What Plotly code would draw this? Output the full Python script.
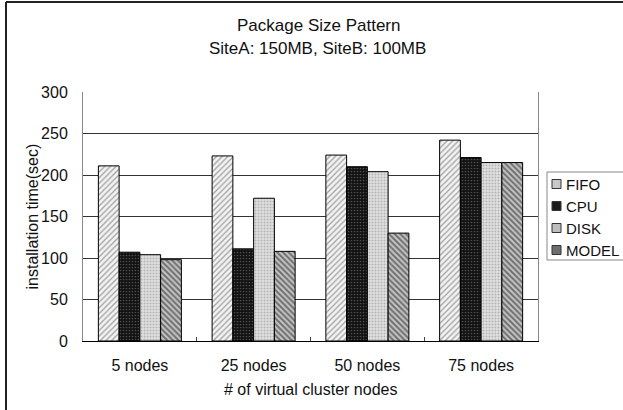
import plotly.graph_objects as go

categories = ["5 nodes", "25 nodes", "50 nodes", "75 nodes"]
fifo = [211, 223, 224, 242]
cpu = [107, 111, 210, 221]
disk = [104, 172, 204, 215]
model = [98, 108, 130, 215]
series_names = ["FIFO", "CPU", "DISK", "MODEL"]

patterns = [
    dict(shape="/", bgcolor="#f4f4f4", fgcolor="#555", size=4, solidity=0.35),
    dict(shape=".", bgcolor="#111", fgcolor="#888", size=3, solidity=0.25),
    dict(shape=".", bgcolor="#e0e0e0", fgcolor="#888", size=3, solidity=0.35),
    dict(shape="\\", bgcolor="#c4c4c4", fgcolor="#1a1a1a", size=4, solidity=0.5),
]
legend_swatch = ["#c8c8c8", "#1a1a1a", "#bdbdbd", "#6e6e6e"]

FONT = "Liberation Sans, Arial, sans-serif"

fig = go.Figure()
for name, vals, pat in zip(series_names, [fifo, cpu, disk, model], patterns):
    fig.add_trace(go.Bar(
        x=categories, y=vals, name=name,
        marker=dict(color=pat["bgcolor"], pattern=pat, line=dict(color="#000", width=1)),
    ))

W, H = 623, 410
L, R, T, B = 83, 85, 92, 69
pw, ph = W - L - R, H - T - B

def px(x):
    return (x - L) / pw

def py(y):
    return (H - B - y) / ph

annotations = [
    dict(text="Package Size Pattern", x=px(318), y=py(25), xref="paper", yref="paper",
         showarrow=False, font=dict(size=17), xanchor="center", yanchor="middle"),
    dict(text="SiteA: 150MB, SiteB: 100MB", x=px(317), y=py(48), xref="paper", yref="paper",
         showarrow=False, font=dict(size=17), xanchor="center", yanchor="middle"),
    dict(text="installation time(sec)", x=px(32), y=0.5, xref="paper", yref="paper",
         showarrow=False, textangle=-90, font=dict(size=16), xanchor="center", yanchor="middle"),
    dict(text="# of virtual cluster nodes", x=0.5, y=py(389), xref="paper", yref="paper",
         showarrow=False, font=dict(size=16), xanchor="center", yanchor="middle"),
]
shapes = [
    dict(type="line", xref="paper", yref="paper", x0=px(6), x1=px(6), y0=py(2), y1=py(420),
         line=dict(color="#222", width=2)),
    dict(type="line", xref="paper", yref="paper", x0=px(6), x1=px(630), y0=py(2), y1=py(2),
         line=dict(color="#222", width=2)),
    # legend box
    dict(type="rect", xref="paper", yref="paper", x0=px(547), x1=px(640), y0=py(172), y1=py(260),
         line=dict(color="#888", width=1), fillcolor="white", layer="above"),
]
legend_y = [184, 206, 228, 250]
for name, col, yc in zip(series_names, legend_swatch, legend_y):
    shapes.append(dict(type="rect", xref="paper", yref="paper",
                       x0=px(552), x1=px(561), y0=py(yc - 4.5), y1=py(yc + 4.5),
                       line=dict(color="#333", width=1), fillcolor=col, layer="above"))
    annotations.append(dict(text=name, x=px(564), y=py(yc), xref="paper", yref="paper",
                            showarrow=False, font=dict(size=15), xanchor="left", yanchor="middle"))

fig.update_layout(
    width=W, height=H,
    margin=dict(l=L, r=R, t=T, b=B, autoexpand=False),
    paper_bgcolor="white", plot_bgcolor="white",
    barmode="group", bargap=0.27, bargroupgap=0,
    font=dict(family=FONT, size=16, color="#111"),
    showlegend=False,
    xaxis=dict(
        showline=True, linecolor="#000", linewidth=1, mirror=False,
        ticks="inside", tickson="boundaries", ticklen=4, tickcolor="#444",
        tickfont=dict(size=16), ticklabelstandoff=10,
    ),
    yaxis=dict(
        range=[0, 300], dtick=50, showgrid=True, gridcolor="#333", gridwidth=1,
        showline=True, linecolor="#888", linewidth=1, mirror=True,
        zeroline=False, ticks="", tickfont=dict(size=16), ticklabelstandoff=11,
    ),
    annotations=annotations,
    shapes=shapes,
)

fig.write_html(
    "out.html",
    config={"displayModeBar": False},
    post_script="document.body.style.margin='0';document.body.style.overflow='hidden';",
)
